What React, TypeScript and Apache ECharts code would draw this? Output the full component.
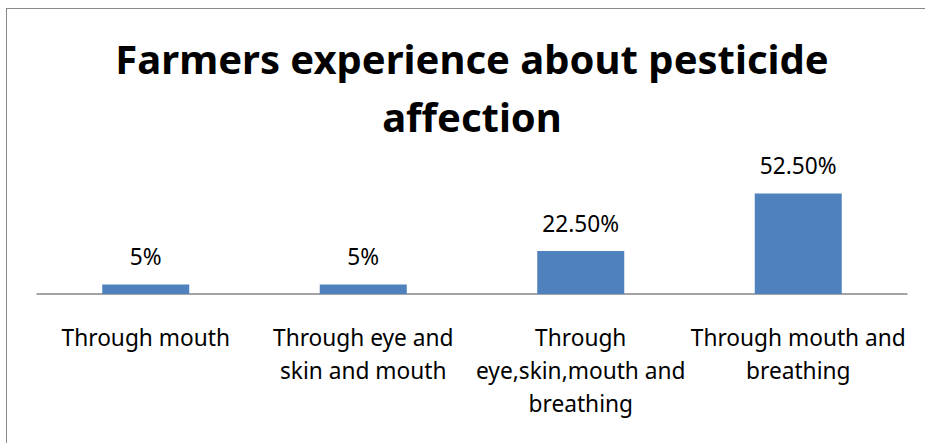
import React, { useEffect, useRef } from "react";
import * as echarts from "echarts";

const titleLines = ["Farmers experience about pesticide", "affection"];
const categories = [
  "Through mouth",
  "Through eye and\nskin and mouth",
  "Through\neye,skin,mouth and\nbreathing",
  "Through mouth and\nbreathing",
];
const values = [5, 5, 22.5, 52.5];
const valueLabels = ["5%", "5%", "22.50%", "52.50%"];

export default function App() {
  const ref = useRef<HTMLDivElement>(null);
  useEffect(() => {
    if (!ref.current) return;
    const chart = echarts.init(ref.current, undefined, { renderer: "svg" });
    chart.setOption({
      animation: false,
      textStyle: { fontFamily: "Noto Sans" },
      title: {
        text: titleLines.join("\n"),
        left: 467,
        top: 24,
        textAlign: "center",
        textStyle: {
          fontFamily: "Noto Sans",
          fontWeight: "bold",
          fontSize: 40,
          lineHeight: 58,
          color: "#000000",
        },
      },
      grid: { left: 37, right: 18, top: 179, bottom: 149, containLabel: false },
      xAxis: {
        type: "category",
        data: categories,
        axisLine: { show: true, lineStyle: { color: "#868686", width: 1.5 } },
        axisTick: { show: false },
        axisLabel: {
          interval: 0,
          margin: 27,
          fontFamily: "Noto Sans",
          fontSize: 22.7,
          lineHeight: 33,
          color: "#000000",
          align: "center",
        },
      },
      yAxis: {
        type: "value",
        min: 0,
        max: 60,
        show: false,
        splitLine: { show: false },
      },
      series: [
        {
          type: "bar",
          data: values,
          barWidth: "40%",
          itemStyle: { color: "#4F81BD" },
          label: {
            show: true,
            position: "top",
            distance: 16,
            fontFamily: "Noto Sans",
            fontSize: 22.7,
            color: "#000000",
            formatter: (p: any) => valueLabels[p.dataIndex],
          },
        },
      ],
    });
    return () => chart.dispose();
  }, []);
  return (
    <div
      style={{
        position: "fixed",
        left: 0,
        top: 0,
        width: 925,
        height: 443,
        overflow: "hidden",
        background: "#ffffff",
      }}
    >
      <div
        style={{
          position: "absolute",
          left: 5.5,
          top: 7.75,
          width: 2000,
          height: 2000,
          borderLeft: "1.5px solid #898989",
          borderTop: "1.5px solid #898989",
        }}
      />
      <div
        ref={ref}
        style={{ position: "absolute", left: 0, top: 0, width: 925, height: 443 }}
      />
    </div>
  );
}
